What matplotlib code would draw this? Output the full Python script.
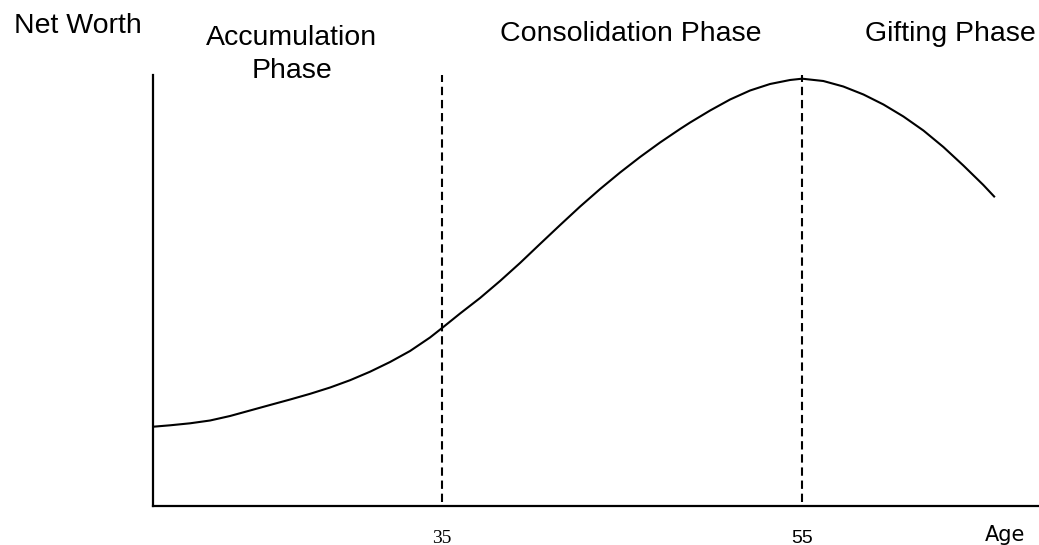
import matplotlib
matplotlib.use("Agg")
import matplotlib.pyplot as plt

# life-cycle net worth curve (age, net worth in arbitrary units)
ages = [18.96, 19.89, 21.0, 22.11, 23.22, 24.33, 25.44, 26.56, 27.67, 28.78,
        29.89, 31.0, 32.11, 33.22, 34.33, 35.0, 36.0, 37.11, 38.22, 39.33,
        40.44, 41.56, 42.67, 43.78, 44.89, 46.0, 47.11, 48.22, 48.78, 49.89,
        51.0, 52.11, 53.22, 54.33, 55.0, 56.18, 57.29, 58.41, 59.52, 60.63,
        61.74, 62.85, 63.96, 65.07, 65.67]
net_worth = [79.3, 80.7, 82.7, 85.5, 90.0, 95.5, 101.0, 106.5, 112.2, 118.5,
             125.8, 134.3, 144.0, 155.0, 168.5, 178.0, 192.5, 208.0, 225.0, 243.0,
             262.0, 281.0, 299.5, 317.0, 333.5, 349.0, 363.5, 377.0, 383.5, 395.5,
             406.5, 415.5, 422.0, 426.0, 427.3, 425.0, 419.5, 411.5, 401.5, 389.5,
             375.5, 359.0, 340.5, 321.0, 309.5]

phase_ages = [35, 55]
phase_tick_labels = ["35", "55"]
tick_fonts = ["Liberation Serif", "Liberation Sans"]

W, H = 1039, 545
fig = plt.figure(figsize=(W / 100, H / 100), dpi=100)
ax = fig.add_axes([153 / W, (H - 506) / H, (W - 153) / W, (506 - 75) / H])

ax.plot(ages, net_worth, color="black", lw=1.5, solid_joinstyle="round")
for a in phase_ages:
    ax.plot([a, a], [4, 431], color="black", lw=1.5, linestyle=(0, (4, 2.3)))

ax.set_xlim(18.94, 18.94 + (W - 153) / 18)
ax.set_ylim(0, 431)

for side in ["top", "right"]:
    ax.spines[side].set_visible(False)
for side in ["left", "bottom"]:
    ax.spines[side].set_linewidth(1.6)

ax.set_yticks([])
ax.set_xticks(phase_ages)
ax.set_xticklabels([])
ax.tick_params(axis="x", length=0)
# tick labels drawn as text below the axis, each in its own font
for a, lab, fam in zip(phase_ages, phase_tick_labels, tick_fonts):
    ax.text(a, -0.085, lab, transform=ax.get_xaxis_transform(),
            ha="center", va="baseline", family=fam, fontsize=14)


def ftext(x, y, s, size=20.5, family="Liberation Sans"):
    fig.text(x / W, 1 - y / H, s, ha="center", va="baseline",
             family=family, fontsize=size)


ftext(78, 33, "Net Worth")
ftext(291, 45, "Accumulation")
ftext(292, 78, "Phase")
ftext(631, 41, "Consolidation Phase")
ftext(950, 41, "Gifting Phase")
ftext(1005, 541, "Age", size=15, family="DejaVu Sans")

fig.savefig("out.png", dpi=100)
